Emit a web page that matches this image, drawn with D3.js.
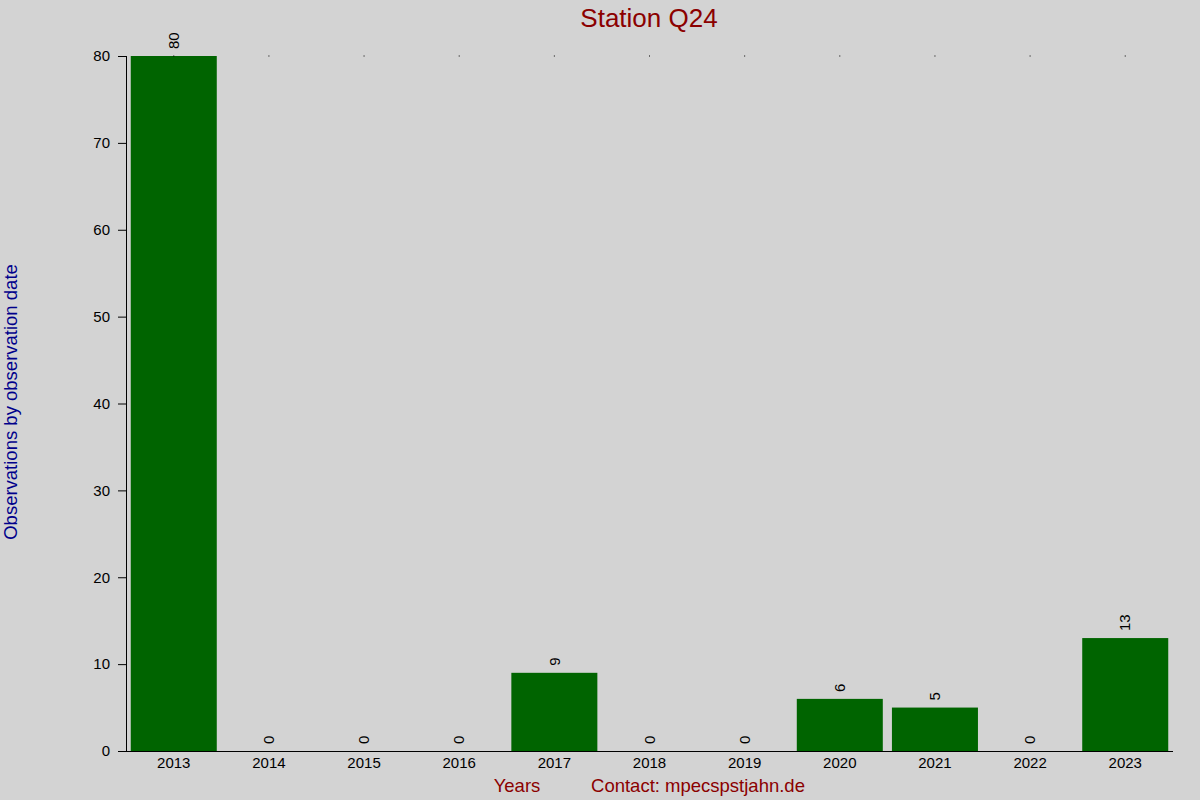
<!DOCTYPE html>
<html>
<head>
<meta charset="utf-8">
<script src="https://cdn.jsdelivr.net/npm/d3@7"></script>
<style>
  body { margin: 0; background: #d3d3d3; }
  svg { display: block; font-family: "Liberation Sans", Arial, sans-serif; }
</style>
</head>
<body>
<svg width="1200" height="800"></svg>
<script>
var years = ["2013", "2014", "2015", "2016", "2017", "2018", "2019", "2020", "2021", "2022", "2023"];
var counts = [80, 0, 0, 0, 9, 0, 0, 6, 5, 0, 13];
var yTicks = [0, 10, 20, 30, 40, 50, 60, 70, 80];

var data = years.map(function(y, i) { return {year: y, count: counts[i]}; });

var svg = d3.select("svg");
svg.append("rect").attr("width", 1200).attr("height", 800).attr("fill", "#d3d3d3");

var x = d3.scaleBand().domain(years).range([126, 1173]).paddingInner(0.096).paddingOuter(0.05),
    y = d3.scaleLinear().domain([0, 80]).range([751, 56]);

// bars
svg.selectAll(".bar")
  .data(data)
  .enter().append("rect")
    .attr("class", "bar")
    .attr("x", function(d) { return x(d.year); })
    .attr("y", function(d) { return y(d.count); })
    .attr("width", x.bandwidth())
    .attr("height", function(d) { return y(0) - y(d.count); })
    .attr("fill", "#006400");

// little dots on top line
svg.selectAll(".dot")
  .data(data)
  .enter().append("rect")
    .attr("x", function(d) { return x(d.year) + x.bandwidth() / 2 - 0.5; })
    .attr("y", y(80) - 0.5)
    .attr("width", 1)
    .attr("height", 1)
    .attr("fill", "#000");

// value labels
svg.selectAll(".val")
  .data(data)
  .enter().append("text")
    .attr("transform", function(d) {
      return "translate(" + (x(d.year) + x.bandwidth() / 2) + "," + (y(d.count) - 7) + ") rotate(-90)";
    })
    .attr("dy", "0.35em")
    .attr("text-anchor", "start")
    .attr("font-size", 15)
    .attr("fill", "#000")
    .text(function(d) { return d.count; });

// y axis
var yAxis = svg.append("g")
    .attr("transform", "translate(126,0)")
    .call(d3.axisLeft(y).tickValues(yTicks).tickSize(8).tickPadding(8));
yAxis.attr("font-size", 15).attr("font-family", "Liberation Sans, Arial, sans-serif");
yAxis.selectAll("text").attr("fill", "#000");
yAxis.selectAll("line").attr("stroke", "#000");
yAxis.select(".domain").attr("stroke", "#000").attr("d", "M0.5," + y(80) + "V" + y(0));

// x axis
var xAxis = svg.append("g")
    .attr("transform", "translate(0,751)")
    .call(d3.axisBottom(x).tickSize(0).tickPadding(6));
xAxis.attr("font-size", 15).attr("font-family", "Liberation Sans, Arial, sans-serif");
xAxis.selectAll("text").attr("fill", "#000");
xAxis.select(".domain").attr("stroke", "#000").attr("d", "M118,0.5H1173");

// title and labels
svg.append("text")
    .attr("x", 649).attr("y", 27)
    .attr("text-anchor", "middle")
    .attr("font-size", 26)
    .attr("fill", "#8b0000")
    .text("Station Q24");

svg.append("text")
    .attr("transform", "translate(17,402) rotate(-90)")
    .attr("text-anchor", "middle")
    .attr("font-size", 18.5)
    .attr("fill", "#00008b")
    .text("Observations by observation date");

svg.append("text")
    .attr("x", 517).attr("y", 792)
    .attr("text-anchor", "middle")
    .attr("font-size", 18.5)
    .attr("fill", "#8b0000")
    .text("Years");

svg.append("text")
    .attr("x", 698).attr("y", 792)
    .attr("text-anchor", "middle")
    .attr("font-size", 18.5)
    .attr("fill", "#8b0000")
    .text("Contact: mpecspstjahn.de");
</script>
</body>
</html>
